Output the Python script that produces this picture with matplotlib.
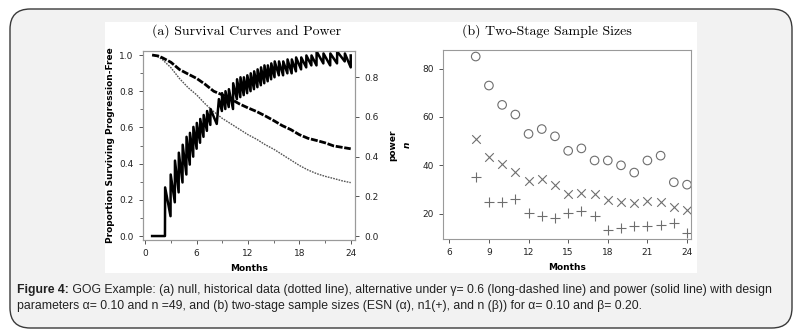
import matplotlib
matplotlib.use("Agg")
import matplotlib.pyplot as plt
from matplotlib.patches import FancyBboxPatch, Rectangle
from matplotlib.ticker import MultipleLocator

# ---------------- data ----------------
months_curve = [0.8, 1.5, 2, 3, 4, 5, 6, 7, 8, 9, 10, 11, 12, 13, 14, 15, 16, 17, 18, 19, 20, 21, 22, 23, 24]
alt_surv = [1.0, 0.995, 0.985, 0.96, 0.92, 0.895, 0.871, 0.838, 0.80, 0.78, 0.757, 0.73, 0.708, 0.688,
            0.664, 0.638, 0.61, 0.588, 0.56, 0.54, 0.528, 0.515, 0.498, 0.49, 0.482]
hist_surv = [1.0, 0.99, 0.975, 0.93, 0.87, 0.82, 0.78, 0.73, 0.687, 0.65, 0.62, 0.59, 0.56, 0.535,
             0.505, 0.48, 0.45, 0.42, 0.39, 0.365, 0.345, 0.33, 0.318, 0.305, 0.295]

power_t = [0.8, 2.30, 2.32, 2.95, 2.97, 3.45, 3.47, 3.90, 3.92, 4.35, 4.37, 4.80, 4.82, 5.20, 5.22,
           5.60, 5.62, 6.00, 6.02, 6.40, 6.42, 6.80, 6.82, 7.20, 7.22, 7.60, 7.62, 8.35, 8.60,
           8.95, 8.97, 9.35, 9.37, 9.75, 9.77, 10.25, 10.27, 10.70, 10.72, 11.10, 11.12, 11.50, 11.52,
           11.90, 11.92, 12.30, 12.32, 12.70, 12.72, 13.10, 13.12, 13.50, 13.52, 13.90, 13.92,
           14.30, 14.32, 14.70, 14.72, 15.10, 15.12, 15.60, 15.62, 16.10, 16.12, 16.60, 16.62,
           17.10, 17.12, 17.60, 17.62, 18.20, 18.22, 18.80, 18.82, 19.40, 19.42, 20.00, 20.02,
           20.80, 20.82, 21.60, 21.62, 22.40, 22.42, 23.30, 23.32, 24.00, 24.00]
power_v = [0.0, 0.0, 0.245, 0.10, 0.31, 0.17, 0.38, 0.22, 0.42, 0.27, 0.46, 0.31, 0.50, 0.36, 0.52,
           0.40, 0.55, 0.44, 0.57, 0.47, 0.59, 0.50, 0.61, 0.53, 0.63, 0.56, 0.64, 0.565, 0.69,
           0.63, 0.72, 0.64, 0.73, 0.65, 0.74, 0.64, 0.77, 0.69, 0.79, 0.70, 0.80, 0.71, 0.80,
           0.72, 0.81, 0.73, 0.82, 0.74, 0.83, 0.75, 0.84, 0.76, 0.85, 0.77, 0.86,
           0.78, 0.86, 0.79, 0.87, 0.80, 0.88, 0.81, 0.88, 0.81, 0.88, 0.82, 0.89,
           0.82, 0.89, 0.83, 0.90, 0.84, 0.90, 0.85, 0.91, 0.86, 0.91, 0.86, 0.93,
           0.87, 0.92, 0.86, 0.92, 0.87, 0.93, 0.88, 0.92, 0.85, 0.91]

months_b = [8, 9, 10, 11, 12, 13, 14, 15, 16, 17, 18, 19, 20, 21, 22, 23, 24]
esn = [85, 73, 65, 61, 53, 55, 52, 46, 47, 42, 42, 40, 37, 42, 44, 33, 32]
n_total = [51, 43.4, 40.4, 37.4, 33.7, 34.3, 32, 28, 28.6, 28.3, 25.5, 25, 24.6, 25.1, 24.7, 22.7, 21.5]
n1 = [35, 25, 25, 26, 20.2, 19.2, 18.1, 20.2, 21.1, 19.2, 13.1, 14.1, 15, 15, 15.2, 16.2, 12.2]

title_a = "(a) Survival Curves and Power"
title_b = "(b) Two-Stage Sample Sizes"
caption_bold = "Figure 4:"
caption_1 = (" GOG Example: (a) null, historical data (dotted line), alternative under \u03b3= 0.6 "
             "(long-dashed line) and power (solid line) with design")
caption_2 = ("parameters \u03b1= 0.10 and n =49, and (b) two-stage sample sizes (ESN (\u03b1), n1(+), "
             "and n (\u03b2)) for \u03b1= 0.10 and \u03b2= 0.20.")

# ---------------- figure ----------------
W, H = 809, 333
fig = plt.figure(figsize=(W / 100, H / 100), dpi=100)
fig.patch.set_facecolor("white")

def fx(px):
    return px / W

def fy(py):
    return 1 - py / H

box = FancyBboxPatch((fx(10), fy(328)), fx(792) - fx(10), fy(9) - fy(328),
                     boxstyle="round,pad=0,rounding_size=0.025", transform=fig.transFigure,
                     facecolor="#f2f2f2", edgecolor="#3a3a3a", linewidth=1.0, zorder=-3,
                     mutation_aspect=W / H)
fig.add_artist(box)
white = Rectangle((fx(105), fy(273)), fx(697) - fx(105), fy(22) - fy(273),
                  transform=fig.transFigure, facecolor="white", edgecolor="none", zorder=-2)
fig.add_artist(white)

spine_col = "#9a9a9a"
tick_fs = 6.5
lab_fs = 6.5

def style_axes(ax):
    for s in ax.spines.values():
        s.set_color(spine_col)
        s.set_linewidth(0.8)
    ax.tick_params(colors="#555555", labelcolor="#222222", labelsize=tick_fs, length=3, width=0.7)
    ax.tick_params(which="minor", colors="#555555", length=2, width=0.6)

# ---- panel (a) ----
axa = fig.add_axes([fx(142.7), fy(240), fx(355) - fx(142.7), fy(50.7) - fy(240)])
axa.set_facecolor("white")
axa.plot(months_curve, hist_surv, color="#555555", lw=1.0, ls=(0, (1.2, 0.8)))
axa.plot(months_curve, alt_surv, color="black", lw=2.0, ls=(0, (2.5, 0.6)))
axa.set_xlim(-0.3, 24.5)
axa.set_ylim(-0.022, 1.024)
axa.set_xticks([0, 6, 12, 18, 24])
axa.xaxis.set_minor_locator(MultipleLocator(3))
axa.set_yticks([0.0, 0.2, 0.4, 0.6, 0.8, 1.0])
axa.set_yticklabels(["0.0", "0.2", "0.4", "0.6", "0.8", "1.0"])
axa.yaxis.set_minor_locator(MultipleLocator(0.1))
style_axes(axa)
axa.set_xlabel("Months", fontsize=lab_fs, fontweight="bold", labelpad=4)
axa.set_ylabel("Proportion Surviving Progression-Free", fontsize=lab_fs, fontweight="bold", labelpad=3)

axp = axa.twinx()
axp.plot(power_t, power_v, color="black", lw=1.8)
axp.set_ylim(-0.02, 0.934)
axp.set_yticks([0.0, 0.2, 0.4, 0.6, 0.8])
axp.set_yticklabels(["0.0", "0.2", "0.4", "0.6", "0.8"])
style_axes(axp)
axp.set_ylabel("power", fontsize=lab_fs, fontweight="bold")
axp.yaxis.set_label_coords((388 - 142.7) / 212.3, 0.5)

fig.text(fx(247), fy(31), title_a, family="cmr10", fontsize=10, ha="center", va="center")

# ---- panel (b) ----
axb = fig.add_axes([fx(442.7), fy(239.3), fx(691) - fx(442.7), fy(50) - fy(239.3)])
axb.set_facecolor("white")
mcol = "#6e6e6e"
axb.scatter(months_b, esn, marker="o", s=38, facecolors="none", edgecolors=mcol, linewidths=0.8)
axb.scatter(months_b, n_total, marker="x", s=38, color=mcol, linewidths=0.8)
axb.scatter(months_b, n1, marker="+", s=45, color=mcol, linewidths=0.8)
axb.set_xlim(5.5, 24.3)
axb.set_ylim(9.4, 87.7)
axb.set_xticks([6, 9, 12, 15, 18, 21, 24])
axb.set_yticks([20, 40, 60, 80])
style_axes(axb)
axb.set_xlabel("Months", fontsize=lab_fs, fontweight="bold", labelpad=4)
axb.set_ylabel("n", fontsize=lab_fs, fontweight="bold", fontstyle="italic")
axb.yaxis.set_label_coords((412 - 442.7) / 248.3, 0.5)

fig.text(fx(547), fy(31), title_b, family="cmr10", fontsize=10, ha="center", va="center")

# ---- caption ----
cap_fs = 8.8
t1 = fig.text(fx(17), fy(290), caption_bold, fontsize=cap_fs, fontweight="bold",
              family="Liberation Sans", ha="left", va="center", color="#222222")
fig.canvas.draw()
bb = t1.get_window_extent()
fig.text(bb.x1 / W, fy(290), caption_1, fontsize=cap_fs, family="Liberation Sans",
         ha="left", va="center", color="#222222")
fig.text(fx(17), fy(306), caption_2, fontsize=cap_fs, family="Liberation Sans",
         ha="left", va="center", color="#222222")

fig.savefig("out.png", dpi=100, facecolor=fig.get_facecolor())
